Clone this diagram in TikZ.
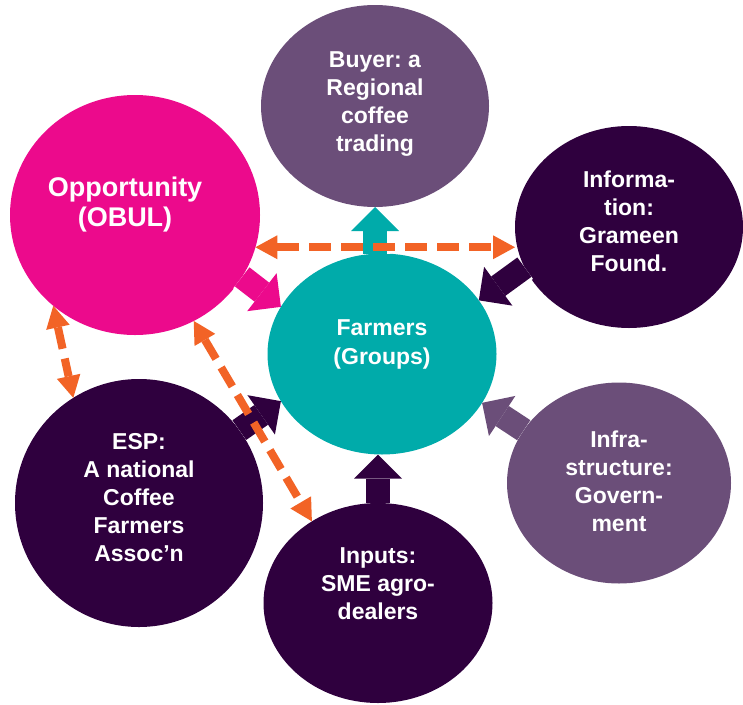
\documentclass[tikz,border=0pt]{standalone}
\usepackage{fontspec}
\setmainfont{Liberation Sans}
\usetikzlibrary{positioning, shapes.geometric, arrows.meta}
\frenchspacing

\definecolor{obulpink}{HTML}{EC0A8C}
\definecolor{farmteal}{HTML}{00ABAA}
\definecolor{lilac}{HTML}{6B4E79}
\definecolor{plum}{HTML}{2F003E}
\definecolor{linkorange}{HTML}{F26326}

\tikzset{
    actor/.style={ellipse, fill=#1, inner sep=0pt, outer sep=0pt},
    every label/.style={text=white, align=center, inner sep=0pt, font=\bfseries\fontsize{23}{28}\selectfont},
    push/.style={draw=#1, line width=24pt, -{Triangle[width=48pt, length=24pt, line width=0pt]},
        preaction={draw=white, line width=29pt, -{Triangle[width=56pt, length=28pt, line width=0pt]}}},
    link/.style={draw=linkorange, line width=8pt, dash pattern=on 22pt off 10pt,
        {Triangle[width=24pt, length=22pt, line width=0pt]}-{Triangle[width=24pt, length=22pt, line width=0pt]}}
}

\begin{document}
\begin{tikzpicture}[x=1pt, y=-1pt]
            \useasboundingbox (0,0) rectangle (743,704);

            \node[actor=lilac, minimum width=228pt, minimum height=202pt, label={[yshift=2pt]center:Buyer: a\\Regional\\coffee\\trading}] (buyer) at (375, 106) {};
            \node[actor=obulpink, minimum width=250pt, minimum height=240pt, label={[xshift=-10pt, yshift=10pt, font=\bfseries\fontsize{27}{30}\selectfont]center:Opportunity\\(OBUL)}] (opp) at (135, 215) {};
            \node[actor=plum, minimum width=228pt, minimum height=202pt, label={[yshift=6pt]center:Informa-\\tion:\\Grameen\\Found.}] (info) at (629, 227) {};
            \node[actor=farmteal, minimum width=229pt, minimum height=201pt, label={[yshift=10pt, font=\bfseries\fontsize{23}{29}\selectfont]center:Farmers\\(Groups)}] (farmers) at (382, 354) {};
            \node[actor=lilac, minimum width=224pt, minimum height=201pt, label={[yshift=2pt]center:Infra-\\structure:\\Govern-\\ment}] (infra) at (619, 483) {};
            \node[actor=plum, minimum width=248pt, minimum height=248pt, label={[yshift=5pt]center:ESP:\\A national\\Coffee\\Farmers\\Assoc’n}] (esp) at (139, 503) {};
            \node[actor=plum, minimum width=229pt, minimum height=200pt, label={[yshift=19pt]center:Inputs:\\SME agro-\\dealers}] (inputs) at (378, 603) {};

            \draw[push=farmteal] (farmers.north -| buyer.south) -- (buyer.south);
            \draw[push=obulpink] (opp.-30) -- (farmers.155);
            \draw[push=plum] (info.-159) -- (farmers.29);
            \draw[push=plum] (esp.36) -- (farmers.-155);
            \draw[push=lilac] (infra.151) -- (farmers.-26);
            \draw[push=plum] (inputs.north) -- (inputs.north |- farmers.south);

            \draw[link] (opp.-15) -- (opp.-15 -| info.west);
            \draw[link] (opp.-132) -- (esp.122);
            \draw[link] (opp.-61) -- (inputs.129);
        \end{tikzpicture}
\end{document}
